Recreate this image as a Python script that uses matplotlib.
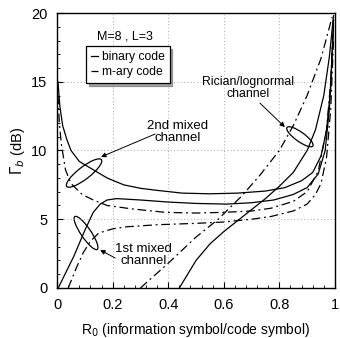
import matplotlib
matplotlib.use('Agg')
import numpy as np
import matplotlib.pyplot as plt
from matplotlib.patches import Ellipse
from matplotlib.lines import Line2D

plt.rcParams['font.family'] = ['Liberation Sans', 'DejaVu Sans']

# 2nd mixed channel
mix2_bin_x = [0.003, 0.01, 0.02, 0.035, 0.05, 0.08, 0.13, 0.18, 0.24, 0.3, 0.36, 0.45,
              0.55, 0.65, 0.75, 0.82, 0.88, 0.92, 0.95, 0.97, 0.985, 0.995]
mix2_bin_y = [15.0, 13.2, 11.8, 10.8, 10.0, 9.2, 8.6, 8.0, 7.5, 7.25, 7.1, 6.9,
              6.85, 6.9, 7.05, 7.3, 7.8, 8.4, 9.6, 11.5, 14.5, 19.5]
mix2_mary_x = [0.003, 0.008, 0.015, 0.03, 0.05, 0.09, 0.13, 0.18, 0.27, 0.39, 0.5, 0.6,
               0.7, 0.77, 0.85, 0.9, 0.94, 0.97, 0.985, 0.995]
mix2_mary_y = [14.0, 12.0, 10.5, 8.6, 7.6, 6.8, 6.4, 6.0, 5.75, 5.5, 5.45, 5.5,
               5.6, 5.8, 6.3, 7.0, 8.5, 11.5, 15.0, 19.5]

# 1st mixed channel
mix1_bin_x = [0.004, 0.06, 0.1, 0.13, 0.155, 0.18, 0.215, 0.3, 0.4, 0.5, 0.61, 0.7,
              0.78, 0.85, 0.9, 0.94, 0.965, 0.98, 0.995]
mix1_bin_y = [0.0, 2.3, 4.2, 5.5, 6.1, 6.4, 6.5, 6.4, 6.25, 6.15, 6.1, 6.2,
              6.4, 6.8, 7.3, 8.3, 10.0, 13.0, 19.0]
mix1_mary_x = [0.04, 0.07, 0.095, 0.12, 0.15, 0.2, 0.25, 0.36, 0.5, 0.6, 0.7, 0.77,
               0.85, 0.9, 0.93, 0.95, 0.97, 0.985, 0.995]
mix1_mary_y = [0.0, 1.5, 2.6, 3.4, 4.0, 4.3, 4.45, 4.6, 4.7, 4.8, 5.0, 5.2,
               5.6, 6.1, 6.8, 7.6, 9.5, 13.0, 18.0]

# Rician/lognormal channel
ric_bin_x = [0.44, 0.5, 0.55, 0.6, 0.65, 0.7, 0.75, 0.8, 0.85, 0.9, 0.93, 0.96, 0.98, 0.995]
ric_bin_y = [0.0, 2.0, 3.2, 4.1, 4.9, 5.7, 6.5, 7.4, 8.4, 10.0, 11.5, 14.0, 16.8, 19.8]
ric_mary_x = [0.3, 0.4, 0.5, 0.58, 0.665, 0.73, 0.8, 0.85, 0.9, 0.95, 0.99]
ric_mary_y = [0.0, 1.8, 3.7, 5.0, 6.7, 8.2, 10.0, 11.8, 14.0, 16.7, 19.7]

mary_dash = (7, 3, 1.5, 3)

fig = plt.figure(figsize=(3.4, 3.38), dpi=100)
ax = fig.add_axes([0.168, 0.148, 0.817, 0.8135])

for xs, ys in [(mix2_bin_x, mix2_bin_y), (mix1_bin_x, mix1_bin_y), (ric_bin_x, ric_bin_y)]:
    ax.plot(xs, ys, color='black', lw=0.9)
for xs, ys in [(mix2_mary_x, mix2_mary_y), (mix1_mary_x, mix1_mary_y), (ric_mary_x, ric_mary_y)]:
    ax.plot(xs, ys, color='black', lw=0.9, dashes=mary_dash)

ax.set_xlim(0, 1)
ax.set_ylim(0, 20)
ax.set_xticks([0, 0.2, 0.4, 0.6, 0.8, 1])
ax.set_xticklabels(['0', '0.2', '0.4', '0.6', '0.8', '1'])
ax.set_yticks([0, 5, 10, 15, 20])
ax.set_xticks(np.arange(0, 1.001, 0.04), minor=True)
ax.set_yticks(np.arange(0, 20.1, 1), minor=True)
ax.tick_params(which='both', direction='in', labelsize=10.5, pad=7)
ax.tick_params(which='major', length=4)
ax.tick_params(which='minor', length=2.5)
ax.grid(True, which='major', linestyle=(0, (1, 3)), color='0.55', lw=0.6)
for s in ax.spines.values():
    s.set_linewidth(1.0)

ax.set_xlabel(r'R$_0$ (information symbol/code symbol)', fontsize=10, labelpad=7)
ax.set_ylabel(r'$\Gamma_b$ (dB)', fontsize=10.5, labelpad=3)

# ellipses drawn in axes fraction (axes is nearly square)
def ell(cx, cy, w, h, ang):
    e = Ellipse((cx, cy / 20.0), w, h, angle=ang, transform=ax.transAxes,
                fill=False, edgecolor='black', lw=0.9)
    ax.add_patch(e)

ell(0.097, 8.36, 0.158, 0.044, 38)
ell(0.104, 4.0, 0.144, 0.036, -56)
ell(0.874, 11.0, 0.115, 0.034, -36)

arrow = dict(arrowstyle='-|>', color='black', lw=0.7, mutation_scale=7, shrinkA=0, shrinkB=0)
ax.annotate('', xy=(0.158, 9.53), xytext=(0.353, 11.2), arrowprops=arrow)
ax.annotate('', xy=(0.155, 2.76), xytext=(0.209, 2.18), arrowprops=arrow)
ax.annotate('', xy=(0.82, 11.7), xytext=(0.73, 13.45), arrowprops=arrow)

ax.text(0.435, 11.35, '2nd mixed\nchannel', ha='center', va='center', fontsize=9.5,
        linespacing=1.0)
ax.text(0.31, 2.4, '1st mixed\nchannel', ha='center', va='center', fontsize=9.5,
        linespacing=1.0)
ax.text(0.687, 14.55, 'Rician/lognormal\nchannel', ha='center', va='center', fontsize=8.8,
        linespacing=1.0)
ax.text(0.245, 18.3, 'M=8 , L=3', ha='center', va='center', fontsize=9)

handles = [Line2D([], [], color='black', lw=0.9),
           Line2D([], [], color='black', lw=0.9, dashes=mary_dash)]
leg = ax.legend(handles, ['binary code', 'm-ary code'], loc='upper left',
                bbox_to_anchor=(0.105, 0.88), fontsize=8.7, frameon=True, fancybox=False,
                shadow=True, handlelength=0.6, handletextpad=0.3, borderpad=0.4,
                labelspacing=0.3, borderaxespad=0)
leg.get_frame().set_edgecolor('black')
leg.get_frame().set_linewidth(0.9)

plt.savefig('out.png', dpi=100)
